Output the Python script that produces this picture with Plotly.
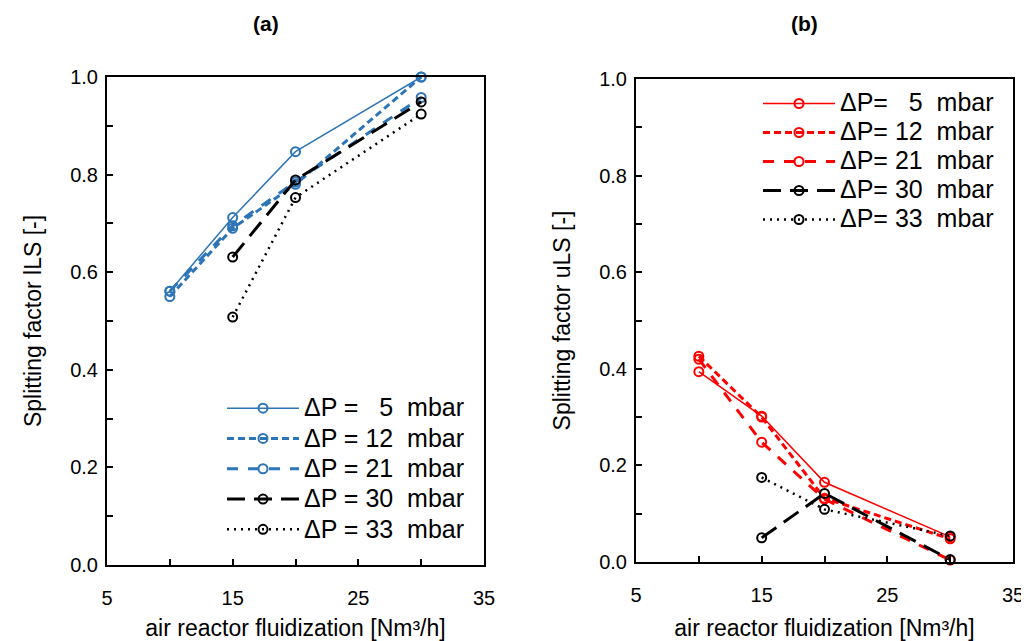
import plotly.graph_objects as go

# The page is drawn with an 8px body margin; the figure is sized to fill the
# 1029x641 window exactly from that offset.
OFF = 8
FW, FH = 1029 - OFF, 641 - OFF


def px(x):
    return (x - OFF) / FW


def py(y):
    return (FH - (y - OFF)) / FH


# ---- data ----
flow = [10, 15, 20, 30]
flow_hi = [15, 20, 30]

lls_5 = [0.561, 0.712, 0.847, 1.0]
lls_12 = [0.55, 0.69, 0.78, 1.0]
lls_21 = [0.561, 0.695, 0.785, 0.958]
lls_30 = [0.631, 0.789, 0.949]
lls_33 = [0.508, 0.753, 0.924]

uls_5 = [0.394, 0.302, 0.165, 0.052]
uls_12 = [0.426, 0.300, 0.132, 0.048]
uls_21 = [0.420, 0.248, 0.130, 0.004]
uls_30 = [0.050, 0.142, 0.005]
uls_33 = [0.175, 0.109, 0.054]

names_a = ["ΔP = \u00a0\u00a05\u00a0 mbar", "ΔP = 12\u00a0 mbar", "ΔP = 21\u00a0 mbar", "ΔP = 30\u00a0 mbar", "ΔP = 33\u00a0 mbar"]
names_b = ["ΔP= \u00a0\u00a05\u00a0 mbar", "ΔP= 12\u00a0 mbar", "ΔP= 21\u00a0 mbar", "ΔP= 30\u00a0 mbar", "ΔP= 33\u00a0 mbar"]

x_tickvals = [5, 10, 15, 20, 25, 30, 35]
x_ticktext = ["5", "", "15", "", "25", "", "35"]
y_tickvals = [0, 0.1, 0.2, 0.3, 0.4, 0.5, 0.6, 0.7, 0.8, 0.9, 1.0]
y_ticktext = ["0.0", "", "0.2", "", "0.4", "", "0.6", "", "0.8", "", "1.0"]

BLUE = "#2E75B6"
RED = "#FF0000"
BLACK = "#000000"
FONT = "Liberation Sans, Arial, sans-serif"

styles = [
    dict(width=1.5, dash="solid"),
    dict(width=3, dash="7px,4px"),
    dict(width=3, dash="11px,10px"),
    dict(width=3, dash="18px,9px"),
    dict(width=2.5, dash="2px,5px"),
]

fig = go.Figure()


def add_series(x, y, name, color, style, xa, ya, legend):
    fig.add_trace(go.Scatter(
        x=x, y=y, name='<span style="font-size:25px">' + name + "</span>",
        mode="lines+markers",
        line=dict(color=color, width=style["width"], dash=style["dash"]),
        marker=dict(symbol="circle-open", size=9, color=color, line=dict(width=2, color=color)),
        xaxis=xa, yaxis=ya, legend=legend, cliponaxis=False,
    ))


data_a = [(flow, lls_5, BLUE), (flow, lls_12, BLUE), (flow, lls_21, BLUE), (flow_hi, lls_30, BLACK), (flow_hi, lls_33, BLACK)]
data_b = [(flow, uls_5, RED), (flow, uls_12, RED), (flow, uls_21, RED), (flow_hi, uls_30, BLACK), (flow_hi, uls_33, BLACK)]

for (x, y, c), n, s in zip(data_a, names_a, styles):
    add_series(x, y, n, c, s, "x", "y", "legend")
for (x, y, c), n, s in zip(data_b, names_b, styles):
    add_series(x, y, n, c, s, "x2", "y2", "legend2")

axis_common = dict(
    showgrid=False, zeroline=False, showline=True, linecolor="black", linewidth=2,
    mirror=True, ticks="inside", ticklen=6, tickwidth=1.5, tickcolor="black",
    tickfont=dict(family=FONT, size=20, color="black"), automargin=False,
)

xtitle = "air reactor fluidization [Nm³/h]"

fig.update_layout(
    width=FW, height=FH,
    margin=dict(l=0, r=0, t=0, b=0, autoexpand=False),
    paper_bgcolor="white", plot_bgcolor="white",
    font=dict(family=FONT, color="black"),
    xaxis=dict(domain=[px(107), px(484)], range=[5, 35], tickmode="array",
               tickvals=x_tickvals, ticktext=x_ticktext, anchor="y",
               title=dict(text=xtitle, font=dict(size=23, family=FONT)),
               ticklabelstandoff=14, **axis_common),
    yaxis=dict(domain=[py(565), py(77)], range=[0, 1.0], tickmode="array",
               tickvals=y_tickvals, ticktext=y_ticktext, anchor="x",
               title=dict(text="Splitting factor lLS [-]", font=dict(size=23, family=FONT), standoff=22),
               ticklabelstandoff=3, **axis_common),
    xaxis2=dict(domain=[px(636), px(1013)], range=[5, 35], tickmode="array",
                tickvals=x_tickvals, ticktext=x_ticktext, anchor="y2",
                title=dict(text=xtitle, font=dict(size=23, family=FONT)),
                ticklabelstandoff=14, **axis_common),
    yaxis2=dict(domain=[py(562), py(79)], range=[0, 1.0], tickmode="array",
                tickvals=y_tickvals, ticktext=y_ticktext, anchor="x2",
                title=dict(text="Splitting factor uLS [-]", font=dict(size=23, family=FONT), standoff=22),
                ticklabelstandoff=3, **axis_common),
    legend=dict(x=px(222), y=py(388), xanchor="left", yanchor="top",
                bgcolor="rgba(0,0,0,0)", font=dict(family=FONT, size=21),
                itemwidth=72, tracegroupgap=0),
    legend2=dict(x=px(758), y=py(84), xanchor="left", yanchor="top",
                 bgcolor="rgba(0,0,0,0)", font=dict(family=FONT, size=20),
                 itemwidth=72, tracegroupgap=0),
    annotations=[
        dict(text="<b>(a)</b>", x=px(266), y=py(23), xref="paper", yref="paper",
             xanchor="center", yanchor="middle",
             showarrow=False, font=dict(family=FONT, size=21)),
        dict(text="<b>(b)</b>", x=px(804), y=py(23), xref="paper", yref="paper",
             xanchor="center", yanchor="middle",
             showarrow=False, font=dict(family=FONT, size=21)),
    ],
)

fig.write_html("out.html")
